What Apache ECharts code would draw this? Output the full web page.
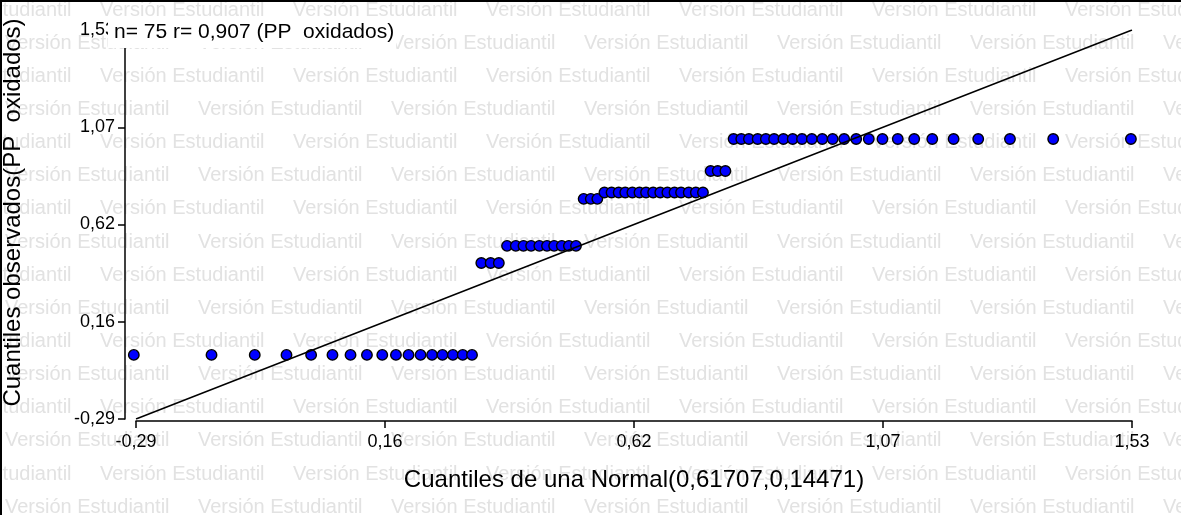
<!DOCTYPE html>
<html>
<head>
<meta charset="utf-8">
<script src="https://cdn.jsdelivr.net/npm/echarts@6/dist/echarts.min.js"></script>
<style>
  html, body { margin: 0; padding: 0; background: #fff; }
  #chart { width: 1181px; height: 515px; }
</style>
</head>
<body>
<div id="chart"></div>
<script>
// ---- data ----
const normalQuantiles = [
  -0.294, -0.152, -0.073, -0.015, 0.030, 0.069, 0.102, 0.132, 0.160, 0.185, 0.208, 0.230, 0.251, 0.270, 0.289, 0.307, 0.324,
  0.341, 0.358, 0.373,
  0.388, 0.404, 0.418, 0.432, 0.447, 0.461, 0.474, 0.488, 0.501, 0.514,
  0.528, 0.541, 0.553,
  0.566, 0.579, 0.592, 0.604, 0.617, 0.630, 0.642, 0.655, 0.668, 0.681, 0.694, 0.706, 0.720, 0.733, 0.746,
  0.760, 0.773, 0.787,
  0.802, 0.816, 0.830, 0.846, 0.861, 0.876, 0.893, 0.910, 0.927, 0.945, 0.964, 0.983, 1.004, 1.026, 1.049, 1.074, 1.102, 1.132, 1.165, 1.204, 1.249, 1.307, 1.386, 1.528
];
const observedQuantiles = [
  0.01, 0.01, 0.01, 0.01, 0.01, 0.01, 0.01, 0.01, 0.01, 0.01, 0.01, 0.01, 0.01, 0.01, 0.01, 0.01, 0.01,
  0.44, 0.44, 0.44,
  0.52, 0.52, 0.52, 0.52, 0.52, 0.52, 0.52, 0.52, 0.52, 0.52,
  0.74, 0.74, 0.74,
  0.77, 0.77, 0.77, 0.77, 0.77, 0.77, 0.77, 0.77, 0.77, 0.77, 0.77, 0.77, 0.77, 0.77, 0.77,
  0.87, 0.87, 0.87,
  1.02, 1.02, 1.02, 1.02, 1.02, 1.02, 1.02, 1.02, 1.02, 1.02, 1.02, 1.02, 1.02, 1.02, 1.02, 1.02, 1.02, 1.02, 1.02, 1.02, 1.02, 1.02, 1.02, 1.02
];
const refLineX = [-0.29, 1.53];
const refLineY = [-0.29, 1.53];
const xTickValues = [-0.29, 0.165, 0.62, 1.075, 1.53];
const xTickLabels = ['-0,29', '0,16', '0,62', '1,07', '1,53'];
const yTickValues = [-0.29, 0.165, 0.62, 1.075, 1.53];
const yTickLabels = ['-0,29', '0,16', '0,62', '1,07', '1,53'];
const titleText = 'n= 75 r= 0,907 (PP  oxidados)';
const xName = 'Cuantiles de una Normal(0,61707,0,14471)';
const yName = 'Cuantiles observados(PP  oxidados)';
const watermarkText = 'Versión Estudiantil';

// ---- chart ----
const chart = echarts.init(document.getElementById('chart'), null, { renderer: 'canvas' });
const FONT = '"Liberation Sans", Arial, sans-serif';

function labelFor(values, labels) {
  return function (v) {
    for (let i = 0; i < values.length; i++) {
      if (Math.abs(values[i] - v) < 1e-6) return labels[i];
    }
    return '';
  };
}

// background watermark
const wm = [];
const period = 193;
for (let r = 0; r < 16; r++) {
  const cy = 10 + r * 33.15;
  const phase = (r % 2 === 0) ? 100 : 5;
  for (let x = phase - 2 * period; x < 1181; x += period) {
    wm.push({
      type: 'text', x: x, y: cy, z: -10, silent: true,
      style: { text: watermarkText, fontSize: 20, fontFamily: FONT, fill: '#e2e2e2', verticalAlign: 'middle' }
    });
  }
}
wm.push({ type: 'line', z: 10, silent: true, shape: { x1: 1, y1: 0, x2: 1, y2: 515 }, style: { stroke: '#000', lineWidth: 2 } });
wm.push({ type: 'line', z: 10, silent: true, shape: { x1: 0, y1: 1, x2: 1181, y2: 1 }, style: { stroke: '#000', lineWidth: 2 } });

const scatterData = normalQuantiles.map((x, i) => [x, observedQuantiles[i]]);
const lineData = refLineX.map((x, i) => [x, refLineY[i]]);

chart.setOption({
  animation: false,
  backgroundColor: '#fff',
  graphic: { elements: wm },
  title: {
    text: titleText,
    left: 108, top: 18,
    padding: [2, 2, 4, 6],
    backgroundColor: '#fff',
    textStyle: { fontFamily: FONT, fontSize: 21, fontWeight: 'normal', color: '#000', lineHeight: 24 }
  },
  grid: { left: 136, right: 49, top: 30, bottom: 96, containLabel: false, outerBoundsMode: 'none' },
  xAxis: {
    type: 'value', min: -0.29, max: 1.53, offset: 2,
    name: xName, nameLocation: 'middle', nameGap: 47,
    nameTextStyle: { fontFamily: FONT, fontSize: 24, color: '#000' },
    axisLine: { show: true, onZero: false, lineStyle: { color: '#000', width: 1.5 } },
    axisTick: { show: true, length: 7, customValues: xTickValues, lineStyle: { color: '#000', width: 1.5 } },
    axisLabel: { customValues: xTickValues, formatter: labelFor(xTickValues, xTickLabels), fontFamily: FONT, fontSize: 18, color: '#000', margin: 12 },
    splitLine: { show: false }
  },
  yAxis: {
    type: 'value', min: -0.29, max: 1.53, offset: 11,
    name: yName, nameLocation: 'middle', nameGap: 100, nameRotate: 90,
    nameTextStyle: { fontFamily: FONT, fontSize: 24, color: '#000', padding: [0, 0, 0, 24] },
    axisLine: { show: true, onZero: false, lineStyle: { color: '#000', width: 1.5 } },
    axisTick: { show: true, length: 7, customValues: yTickValues, lineStyle: { color: '#000', width: 1.5 } },
    axisLabel: { customValues: yTickValues, formatter: labelFor(yTickValues, yTickLabels), fontFamily: FONT, fontSize: 18, color: '#000', margin: 10 },
    splitLine: { show: false }
  },
  series: [
    {
      type: 'scatter', data: scatterData, clip: false, z: 2,
      symbol: 'circle', symbolSize: 10.5,
      itemStyle: { color: '#0000ff', borderColor: '#000', borderWidth: 1.4, opacity: 1 }
    },
    {
      type: 'line', data: lineData, z: 3, showSymbol: false, symbol: 'none',
      lineStyle: { color: '#000', width: 1.5 }
    }
  ]
});
</script>
</body>
</html>
